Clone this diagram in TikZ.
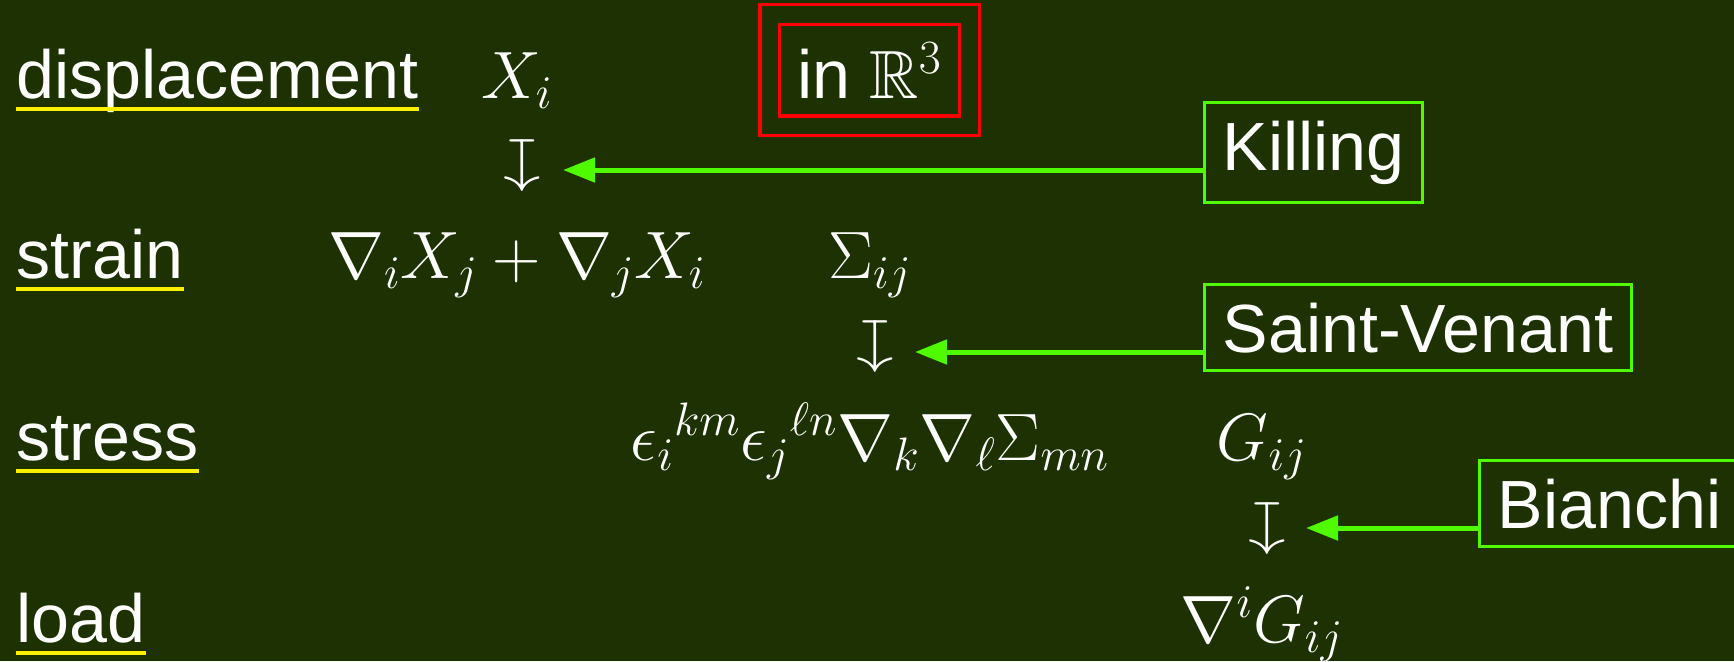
\RequirePackage{fix-cm}
\documentclass[tikz,border=0pt]{standalone}
\usepackage[no-math]{fontspec}
\setmainfont{Liberation Sans}
\usepackage{amssymb}
\usepackage{graphicx}
\usetikzlibrary{arrows.meta,fit}
\definecolor{bg}{RGB}{29,49,3}
\definecolor{kgreen}{RGB}{80,250,0}
\definecolor{uyellow}{RGB}{255,240,0}
\begin{document}
\begin{tikzpicture}[x=0.5pt,y=-0.5pt,
  font=\fontsize{33.5}{40}\selectfont,
  txt/.style={font=\fontsize{34.1}{40}\selectfont},
  rowlabel/.style={txt, anchor=base west, inner sep=0pt, text=white},
  mathnode/.style={anchor=base, inner sep=0pt, text=white},
  mapsnode/.style={rotate=-90, inner sep=0pt, text=white},
  gbox/.style={txt, draw=kgreen, line width=1.6pt, inner sep=9pt, anchor=base west, text=white},
  rbox/.style={txt, draw=red, line width=1.6pt, inner sep=9pt, text=white},
  garrow/.style={draw=kgreen, line width=2.5pt, -{Triangle[length=16pt,width=12pt]}},
  uline/.style={draw=uyellow, line width=2pt}]
\fill[bg] (0,0) rectangle (1734,661);
\useasboundingbox (0,0) rectangle (1734,661);

% row labels
\node[rowlabel] (disp) at (16,98) {displacement};
\node[rowlabel] (strain) at (16,278) {strain};
\node[rowlabel] (stress) at (16,460) {stress};
\node[rowlabel] (load) at (16,642) {load};
\foreach \n in {disp,strain,stress,load}
  \draw[uline] ([yshift=-5.5pt]\n.base west) -- ([yshift=-5.5pt]\n.base east);

% math entries
\node[mathnode] (xi) at (517,98) {$X_i$};
\node[mathnode] (grad) at (517,278) {$\nabla_i X_j + \nabla_j X_i$};
\node[mathnode] (sigma) at (870,278) {$\Sigma_{ij}$};
\node[mathnode] (inc) at (870,460) {$\epsilon_i{}^{km}\epsilon_j{}^{\ell n}\nabla_k\nabla_\ell\Sigma_{mn}$};
\node[mathnode] (G) at (1262,460) {$G_{ij}$};
\node[mathnode] (divG) at (1262,642) {$\nabla^i G_{ij}$};

% maps-to arrows
\node[mapsnode] (map1) at (518,166) {\scalebox{0.87}[1]{$\mapsto$}};
\node[mapsnode] (map2) at (871,347) {\scalebox{0.87}[1]{$\mapsto$}};
\node[mapsnode] (map3) at (1263,529) {\scalebox{0.87}[1]{$\mapsto$}};

% red boxes
\node[rbox, anchor=base west] (inr) at (778,98) {in $\mathbb{R}^3$};
\node[draw=red, line width=1.6pt, inner sep=9pt, fit=(inr)] (outr) {};

% green boxes
\node[gbox] (killing) at (1203,170) {Killing};
\node[gbox] (sv) at (1203,352) {Saint-Venant};
\node[gbox, text width=130pt, align=left] (bianchi) at (1478,528) {Bianchi};

\coordinate (ktip) at (563,170);
\coordinate (svtip) at (915,352);
\coordinate (btip) at (1306,528);
\draw[garrow] (killing.base west) -- (ktip);
\draw[garrow] (sv.base west) -- (svtip);
\draw[garrow] (bianchi.base west) -- (btip);
\end{tikzpicture}
\end{document}
